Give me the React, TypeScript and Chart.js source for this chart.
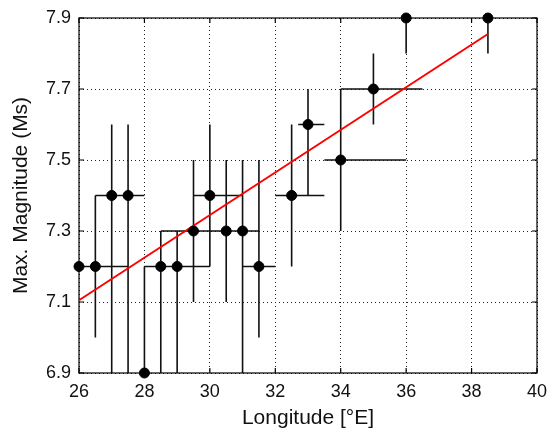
import React, { useEffect, useRef } from "react";
import { Chart, registerables } from "chart.js";

Chart.register(...registerables);

// Data points (longitude, max magnitude)
const lon = [26, 26.5, 27, 27.5, 28, 28.5, 29, 29.5, 30, 30.5, 31, 31.5, 32.5, 33, 34, 35, 36, 38.5];
const mag = [7.2, 7.2, 7.4, 7.4, 6.9, 7.2, 7.2, 7.3, 7.4, 7.3, 7.3, 7.2, 7.4, 7.6, 7.5, 7.7, 7.9, 7.9];
// Error bar extents
const lonLow = [26, 26.5, 26.5, 27.5, 28, 28, 29, 28.5, 29.5, 30.5, 31, 31, 32, 32.7, 33.5, 34, 36, 38.5];
const lonHigh = [27.5, 26.5, 28, 27.5, 28, 30, 29, 31.5, 31, 30.5, 31, 32, 33.5, 33.5, 36, 36.5, 36, 38.5];
const magLow = [7.2, 7.0, 6.9, 6.9, 6.9, 6.9, 6.9, 7.1, 7.2, 7.1, 6.9, 7.0, 7.2, 7.4, 7.3, 7.6, 7.8, 7.8];
const magHigh = [7.2, 7.4, 7.6, 7.6, 7.2, 7.3, 7.3, 7.5, 7.6, 7.5, 7.5, 7.5, 7.6, 7.7, 7.7, 7.8, 7.9, 7.9];
// Linear fit
const fitLon = [26, 38.5];
const fitMag = [7.105, 7.855];
// Ticks
const xTicks = [26, 28, 30, 32, 34, 36, 38, 40];
const yTicks = [6.9, 7.1, 7.3, 7.5, 7.7, 7.9];

const FONT = "'Liberation Sans', Arial, Helvetica, sans-serif";

const errorBarPlugin = {
  id: "errorBars",
  beforeDatasetsDraw(chart: any) {
    const { ctx, chartArea, scales } = chart;
    const xs = scales.x;
    const ys = scales.y;
    ctx.save();
    // error bars
    ctx.strokeStyle = "#111";
    ctx.lineWidth = 1.6;
    ctx.beginPath();
    for (let i = 0; i < lon.length; i++) {
      const px = xs.getPixelForValue(lon[i]);
      const py = ys.getPixelForValue(mag[i]);
      if (lonLow[i] !== lonHigh[i]) {
        ctx.moveTo(xs.getPixelForValue(lonLow[i]), py);
        ctx.lineTo(xs.getPixelForValue(lonHigh[i]), py);
      }
      if (magLow[i] !== magHigh[i]) {
        ctx.moveTo(px, ys.getPixelForValue(magLow[i]));
        ctx.lineTo(px, ys.getPixelForValue(magHigh[i]));
      }
    }
    ctx.stroke();
    // frame
    ctx.strokeStyle = "#000";
    ctx.lineWidth = 1.2;
    ctx.strokeRect(chartArea.left, chartArea.top, chartArea.right - chartArea.left, chartArea.bottom - chartArea.top);
    // inward ticks
    const tl = 5;
    ctx.beginPath();
    for (const v of xTicks) {
      const px = xs.getPixelForValue(v);
      ctx.moveTo(px, chartArea.bottom);
      ctx.lineTo(px, chartArea.bottom - tl);
      ctx.moveTo(px, chartArea.top);
      ctx.lineTo(px, chartArea.top + tl);
    }
    for (const v of yTicks) {
      const py = ys.getPixelForValue(v);
      ctx.moveTo(chartArea.left, py);
      ctx.lineTo(chartArea.left + tl, py);
      ctx.moveTo(chartArea.right, py);
      ctx.lineTo(chartArea.right - tl, py);
    }
    ctx.stroke();
    ctx.restore();
  },
};

export default function App() {
  const ref = useRef<HTMLCanvasElement | null>(null);
  useEffect(() => {
    if (!ref.current) return;
    const chart = new Chart(ref.current, {
      type: "scatter",
      data: {
        datasets: [
          {
            type: "line",
            data: fitLon.map((x, i) => ({ x, y: fitMag[i] })),
            borderColor: "#ff0000",
            borderWidth: 2,
            pointRadius: 0,
            fill: false,
            clip: false as any,
            order: 2,
          } as any,
          {
            type: "scatter",
            data: lon.map((x, i) => ({ x, y: mag[i] })),
            backgroundColor: "#000",
            borderColor: "#000",
            pointRadius: 5,
            pointHoverRadius: 5,
            clip: false as any,
            order: 1,
          } as any,
        ],
      },
      options: {
        animation: false,
        responsive: false,
        events: [],
        layout: { padding: { left: 0, right: 10, top: 18, bottom: 0 } },
        plugins: { legend: { display: false }, tooltip: { enabled: false } },
        scales: {
          x: {
            type: "linear",
            min: 26,
            max: 40,
            afterFit: (s: any) => {
              s.height = 56;
              s.paddingLeft = 0;
              s.paddingRight = 0;
            },
            afterBuildTicks: (s: any) => {
              s.ticks = xTicks.map((v) => ({ value: v }));
            },
            ticks: {
              font: { family: FONT, size: 18 },
              color: "#111",
              padding: 8,
              maxRotation: 0,
              autoSkip: false,
              callback: (v: any) => String(v),
            },
            grid: { color: "#222", lineWidth: 1, drawTicks: false },
            border: { display: false, dash: [1, 3] },
            title: {
              display: true,
              text: "Longitude [°E]",
              font: { family: FONT, size: 21, lineHeight: 1 },
              color: "#111",
              padding: { top: 0, bottom: 0 },
            },
          },
          y: {
            type: "linear",
            min: 6.9,
            max: 7.9,
            afterFit: (s: any) => {
              s.width = 79;
              s.paddingTop = 0;
              s.paddingBottom = 0;
            },
            afterBuildTicks: (s: any) => {
              s.ticks = yTicks.map((v) => ({ value: v }));
            },
            ticks: {
              font: { family: FONT, size: 18 },
              color: "#111",
              padding: 8,
              autoSkip: false,
              callback: (v: any) => Number(v).toFixed(1),
            },
            grid: { color: "#222", lineWidth: 1, drawTicks: false },
            border: { display: false, dash: [1, 3] },
            title: {
              display: true,
              text: "Max. Magnitude (Ms)",
              font: { family: FONT, size: 21, lineHeight: 1 },
              color: "#111",
              padding: { top: 11, bottom: 0 },
            },
          },
        },
      },
      plugins: [errorBarPlugin],
    } as any);
    return () => chart.destroy();
  }, []);
  return (
    <div style={{ position: "absolute", left: 0, top: 0, width: 547, height: 429, background: "#fff" }}>
      <canvas ref={ref} width={547} height={429} style={{ display: "block", width: 547, height: 429 }} />
    </div>
  );
}
